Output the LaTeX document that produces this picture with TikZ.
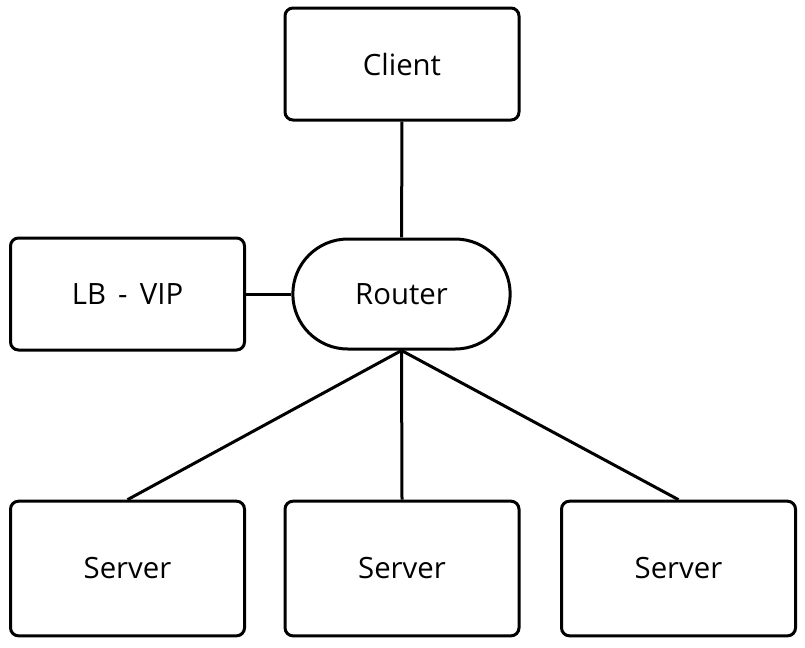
\documentclass[tikz,border=0pt]{standalone}
\usepackage{fontspec}
\setmainfont[WordSpace=1.6]{Open Sans}
\usetikzlibrary{shapes.misc}
\tikzset{box/.style={draw=black, line width=2.25pt, rounded corners=6pt,
minimum width=175.5pt, minimum height=#1, inner sep=0pt,
font=\fontsize{22}{26}\selectfont},
hub/.style={draw=black, line width=2.25pt, rounded rectangle,
minimum width=163pt, minimum height=82.5pt, inner sep=0pt,
font=\fontsize{22}{26}\selectfont},
link/.style={line width=2.25pt}}

\begin{document}
\begin{tikzpicture}[x=0.75pt,y=-0.75pt]
	\useasboundingbox (0,0) rectangle (805,647);
	\node[box=84pt] (client) at (402,64) {Client};
	\node[box=84pt] (lbvip) at (127.5,294) {LB - VIP};
	\node[hub] (router) at (401.5,294) {Router};
	\node[box=101pt] (srvA) at (127.5,568.5) {Server};
	\node[box=101pt] (srvB) at (402,568.5) {Server};
	\node[box=101pt] (srvC) at (678.5,568.5) {Server};
	\draw[link] (client) -- (router);
	\draw[link] (lbvip) -- (router);
	\draw[link] (router.south) -- (srvA.north);
	\draw[link] (router.south) -- (srvB.north);
	\draw[link] (router.south) -- (srvC.north);
\end{tikzpicture}
\end{document}
